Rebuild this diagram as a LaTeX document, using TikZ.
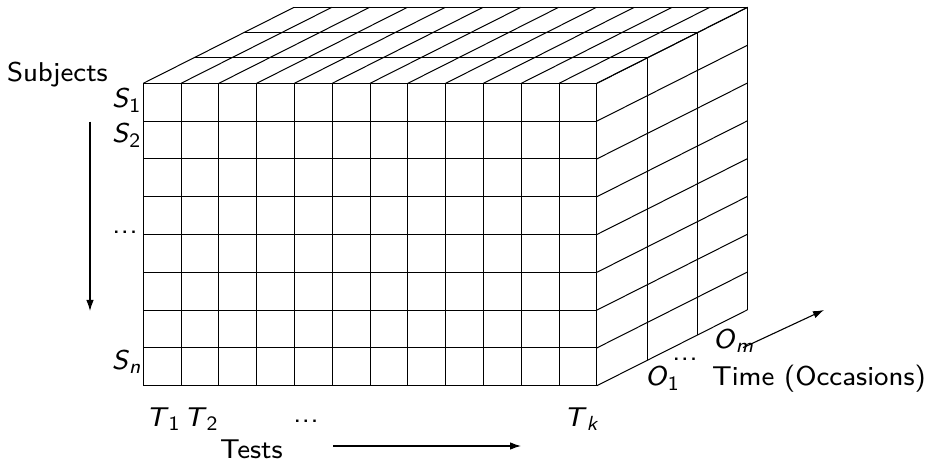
\documentclass[tikz,border=0pt]{standalone}
\usepackage{amsmath}
\usepackage{graphicx}
\usetikzlibrary{arrows.meta}
\newcommand\lbl[1]{\scalebox{3.4}{\fontsize{8}{9.6}\selectfont\sffamily #1}}
\newcommand\mv[2]{\textit{#1}$_{\textsf{#2}}$}
\newcommand\mydots{.\kern0.2pt.\kern0.2pt.}
\tikzset{
  gridline/.style={line width=1pt, black},
  axisarrow/.style={line width=1.1pt, -{Latex[length=11pt,width=7.5pt]}},
  lab/.style={inner sep=0pt, outer sep=0pt}
}
\begin{document}
\begin{tikzpicture}[x=1pt,y=-1pt]
\useasboundingbox (0,0) rectangle (927,462);
% front face
\foreach \i in {0,...,12}
  \draw[gridline] ({143.3+37.8*\i},83.3) -- ++(0,302.4);
\foreach \j in {0,...,8}
  \draw[gridline] (143.3,{83.3+37.8*\j}) -- ++(453.6,0);
% top face
\foreach \i in {0,...,12}
  \draw[gridline] ({143.3+37.8*\i},83.3) -- ++(150.6,-75.9);
\foreach \k in {1,2,3}
  \draw[gridline] ({143.3+50.2*\k},{83.3-25.3*\k}) -- ++(453.6,0);
% right face
\foreach \j in {0,...,8}
  \draw[gridline] (596.9,{83.3+37.8*\j}) -- ++(150.6,-75.9);
\foreach \k in {1,2,3}
  \draw[gridline] ({596.9+50.2*\k},{83.3-25.3*\k}) -- ++(0,302.4);
% labels
\node[lab, anchor=base west] (subj) at (7,81.5) {\lbl{Subjects}};
\node[lab, anchor=base east] (s1) at (142,108) {\lbl{\mv{S}{1}}};
\node[lab, anchor=base east] (s2) at (142,143) {\lbl{\mv{S}{2}}};
\node[lab, anchor=base] (sdots) at (125,234) {\lbl{\mydots}};
\node[lab, anchor=base east] (sn) at (142,370) {\lbl{\mv{S}{\textit{n}}}};
\node[lab, anchor=base west] (t1) at (146,426) {\lbl{\mv{T}{1}}};
\node[lab, anchor=base west] (t2) at (184,426) {\lbl{\mv{T}{2}}};
\node[lab, anchor=base] (tdots) at (306,423) {\lbl{\mydots}};
\node[lab, anchor=base west] (tk) at (564,426) {\lbl{\mv{T}{\textit{k}}}};
\node[lab, anchor=base west] (tests) at (220,458) {\lbl{Tests}};
\node[lab, anchor=base west] (om) at (713,349) {\lbl{\mv{O}{\textit{m}}}};
\node[lab, anchor=base west] (o1) at (645,386) {\lbl{\mv{O}{1}}};
\node[lab, anchor=base] (odots) at (685,361) {\lbl{\mydots}};
\node[lab, anchor=base west] (time) at (712,385.5) {\lbl{Time (Occasions)}};
% arrows
\coordinate (sa) at (90,121.7);
\coordinate (sb) at (90,311);
\coordinate (ta) at (333,446);
\coordinate (tb) at (521,446);
\coordinate (oa) at (743,347.7);
\coordinate (ob) at (824,310);
\draw[axisarrow] (sa) -- (sb);
\draw[axisarrow] (ta) -- (tb);
\draw[axisarrow] (oa) -- (ob);
\end{tikzpicture}
\end{document}
